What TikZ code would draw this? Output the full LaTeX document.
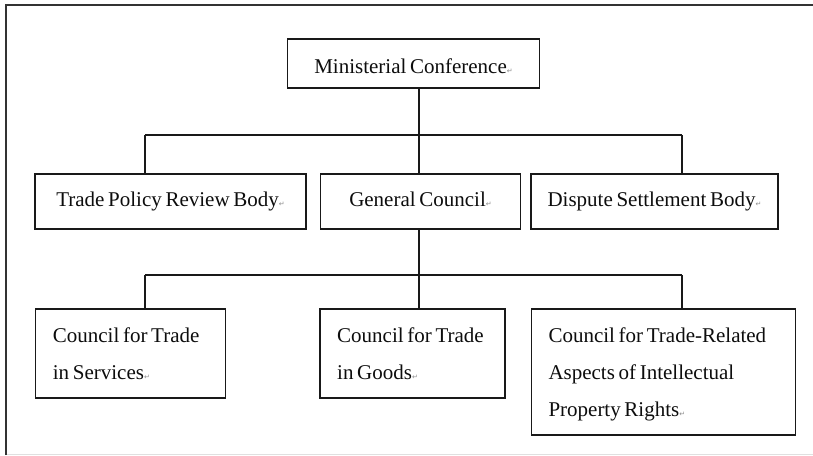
\documentclass[tikz,border=0pt]{standalone}
\usepackage{fontspec}
\setmainfont{Liberation Serif}[WordSpace=0.7]
\newfontfamily\symfont{DejaVu Sans}
\newcommand*{\retmk}{{\color{black!45}\symfont\fontsize{7}{7}\selectfont ↵}}
\begin{document}
\begin{tikzpicture}[x=1pt,y=-1pt,
  box/.style={draw=black!90,line width=1.8pt,inner sep=0pt,rectangle,text=black!95,
    font=\fontsize{21}{25}\selectfont},
  rowone/.style={box,text height=20pt,text depth=0pt},
  rowtwo/.style={box,text height=15pt,text depth=4.2pt,minimum height=55pt},
  rowthree/.style={box},
  txt/.style={anchor=north west,inner sep=0pt,align=left,text=black!95},
  link/.style={draw=black!90,line width=1.8pt},
  frame/.style={draw=black!80,line width=2pt}]
\useasboundingbox (0,0) rectangle (813,455);
\fill[white] (0,0) rectangle (813,455);
% frame
\draw[frame] (6,455) -- (6,5) -- (813,5);
\draw[black!12,line width=1pt] (7,454) -- (813,454);
% boxes
\node[rowone,minimum width=252pt,minimum height=49pt] (mc) at (413.5,63.5) {Ministerial Conference\retmk};
\node[rowtwo,minimum width=271pt] (tprb) at (170.5,201.5) {Trade Policy Review Body\retmk};
\node[rowtwo,minimum width=200pt] (gc) at (420.5,201.5) {General Council\retmk};
\node[rowtwo,minimum width=247pt] (dsb) at (654.5,201.5) {Dispute Settlement Body\retmk};
\node[rowthree,minimum width=190pt,minimum height=89pt] (cts) at (130.5,353.5) {};
\node[rowthree,minimum width=185pt,minimum height=89pt] (ctg) at (412.5,353.5) {};
\node[rowthree,minimum width=264pt,minimum height=126pt] (trips) at (663.5,372) {};
% texts of the third row
\node[txt,font=\fontsize{21}{36.5}\selectfont] (ctst) at (52.7,322.7) {\rule{0pt}{20pt}Council for Trade\\in Services\retmk};
\node[txt,font=\fontsize{21}{36.5}\selectfont] (ctgt) at (337,322.7) {\rule{0pt}{20pt}Council for Trade\\in Goods\retmk};
\node[txt,font=\fontsize{21}{37}\selectfont] (tript) at (548.3,322.7) {\rule{0pt}{20pt}Council for Trade-Related\\Aspects of Intellectual\\Property Rights\retmk};
% junctions
\coordinate (j1) at (419,135);
\coordinate (l1) at (145,135);
\coordinate (r1) at (682,135);
\coordinate (j2) at (419,275);
\coordinate (l2) at (145,275);
\coordinate (r2) at (682,275);
% connectors
\draw[link] (mc.south -| j1) -- (j1);
\draw[link] (l1) -- (r1);
\draw[link] (l1) -- (tprb.north -| l1);
\draw[link] (j1) -- (gc.north -| j1);
\draw[link] (r1) -- (dsb.north -| r1);
\draw[link] (gc.south -| j2) -- (j2);
\draw[link] (l2) -- (r2);
\draw[link] (l2) -- (cts.north -| l2);
\draw[link] (j2) -- (ctg.north -| j2);
\draw[link] (r2) -- (trips.north -| r2);
\end{tikzpicture}
\end{document}
